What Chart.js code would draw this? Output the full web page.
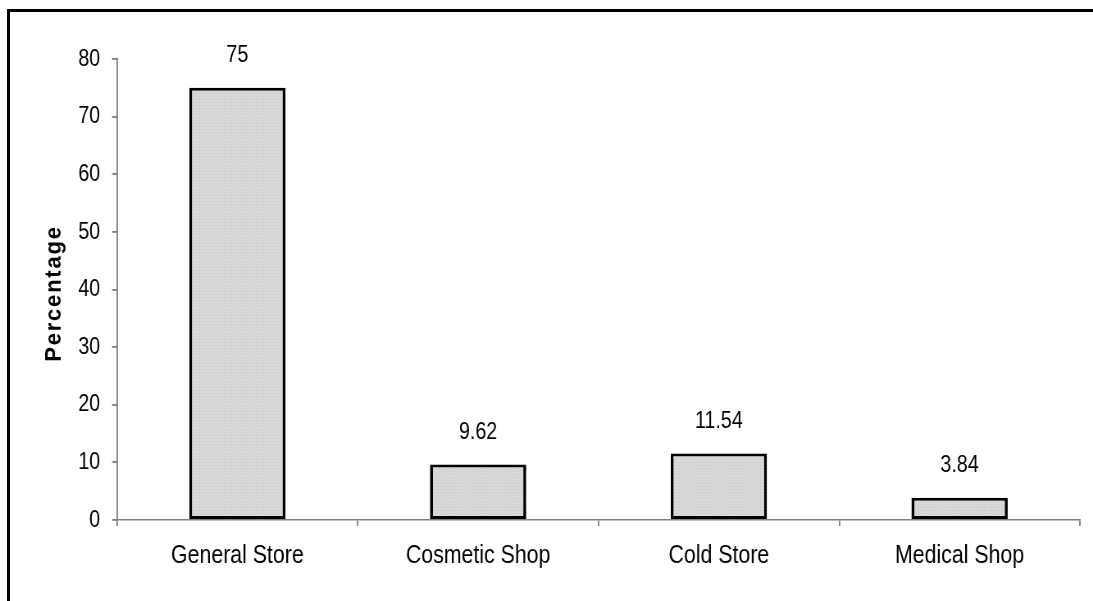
<!DOCTYPE html>
<html lang="en">
<head>
  <meta charset="UTF-8" />
  <title>Store Types</title>
  <script src="https://cdn.jsdelivr.net/npm/chart.js"></script>
  <style>
    html, body {
      margin: 0;
      padding: 0;
      background: #fff;
      overflow: hidden;
      width: 1093px;
      height: 601px;
    }
    /* the chart box runs off the page to the right and bottom,
       so only its top and left edges show */
    .edge {
      position: absolute;
      background: #000;
    }
    #edgeTop { left: 7px; top: 9px; width: 1086px; height: 3px; }
    #edgeLeft { left: 7px; top: 9px; width: 3px; height: 592px; }
    /* chart is laid out wider, then squeezed so the Arial-like text reads narrow */
    #wrap {
      position: absolute;
      left: 0;
      top: 0;
      transform: scaleX(0.82);
      transform-origin: 0 0;
    }
  </style>
</head>
<body>
  <div class="edge" id="edgeTop"></div>
  <div class="edge" id="edgeLeft"></div>
  <div id="wrap"><canvas id="storeChart" width="1333" height="601"></canvas></div>

<script>
  // store categories and their share in percent
  const categories = ["General Store", "Cosmetic Shop", "Cold Store", "Medical Shop"];
  const percentages = [75, 9.62, 11.54, 3.84];
  const valueLabels = ["75", "9.62", "11.54", "3.84"];
  const yTitle = "Percentage";

  const SQUEEZE = 0.82;
  const FONT = "'Liberation Sans', Arial, sans-serif";
  const AXIS_GREY = "#808080";

  // dotted light grey fill
  function dotPattern() {
    const tile = document.createElement("canvas");
    tile.width = 3;
    tile.height = 3;
    const t = tile.getContext("2d");
    t.fillStyle = "#dcdcdc";
    t.fillRect(0, 0, 3, 3);
    t.fillStyle = "#c2c2c2";
    t.fillRect(0, 0, 1, 1);
    t.fillRect(1.5, 1.5, 1, 1);
    return document.getElementById("storeChart").getContext("2d").createPattern(tile, "repeat");
  }

  // numbers above each bar
  const barValues = {
    id: "barValues",
    afterDatasetsDraw(chart) {
      const ctx = chart.ctx;
      const meta = chart.getDatasetMeta(0);
      ctx.save();
      ctx.font = "24px " + FONT;
      ctx.fillStyle = "#000";
      ctx.textAlign = "center";
      ctx.textBaseline = "middle";
      meta.data.forEach((bar, i) => {
        ctx.fillText(valueLabels[i], bar.x, bar.y - 32);
      });
      ctx.restore();
    }
  };

  // spaced-out bold axis title, kept unsqueezed
  const sideTitle = {
    id: "sideTitle",
    afterDraw(chart) {
      const ctx = chart.ctx;
      const area = chart.chartArea;
      ctx.save();
      ctx.translate(55 / SQUEEZE, (area.top + area.bottom) / 2 + 5);
      ctx.scale(1 / SQUEEZE, 1);
      ctx.rotate(-Math.PI / 2);
      ctx.font = "bold 22px " + FONT;
      ctx.letterSpacing = "1.8px";
      ctx.fillStyle = "#000";
      ctx.textAlign = "center";
      ctx.textBaseline = "middle";
      ctx.fillText(yTitle, 1, 0);
      ctx.restore();
    }
  };

  new Chart(document.getElementById("storeChart"), {
    type: "bar",
    data: {
      labels: categories,
      datasets: [{
        data: percentages,
        backgroundColor: dotPattern(),
        borderColor: "#000",
        borderWidth: { top: 3, bottom: 3, left: 3 / SQUEEZE, right: 3 / SQUEEZE },
        borderSkipped: false,
        barPercentage: 0.4,
        categoryPercentage: 1.0
      }]
    },
    options: {
      responsive: false,
      animation: false,
      layout: {
        padding: { top: 59, right: 16, left: 0, bottom: 0 }
      },
      plugins: {
        legend: { display: false },
        tooltip: { enabled: false }
      },
      scales: {
        y: {
          min: 0,
          max: 80,
          afterFit(scale) { scale.width = 117 / SQUEEZE; },
          ticks: {
            stepSize: 10,
            padding: 14.5,
            color: "#000",
            font: { family: FONT, size: 24 }
          },
          grid: {
            drawOnChartArea: false,
            drawTicks: true,
            tickLength: 5 / SQUEEZE,
            color: AXIS_GREY,
            lineWidth: 1.5 / SQUEEZE
          },
          border: { color: AXIS_GREY, width: 1.5 / SQUEEZE }
        },
        x: {
          afterFit(scale) { scale.height = 81; },
          ticks: {
            padding: 14,
            color: "#000",
            font: { family: FONT, size: 26 }
          },
          grid: {
            offset: true,
            drawOnChartArea: false,
            drawTicks: true,
            tickLength: 6,
            color: AXIS_GREY,
            lineWidth: 1.5 / SQUEEZE
          },
          border: { color: AXIS_GREY, width: 1.5 }
        }
      }
    },
    plugins: [barValues, sideTitle]
  });
</script>
</body>
</html>
